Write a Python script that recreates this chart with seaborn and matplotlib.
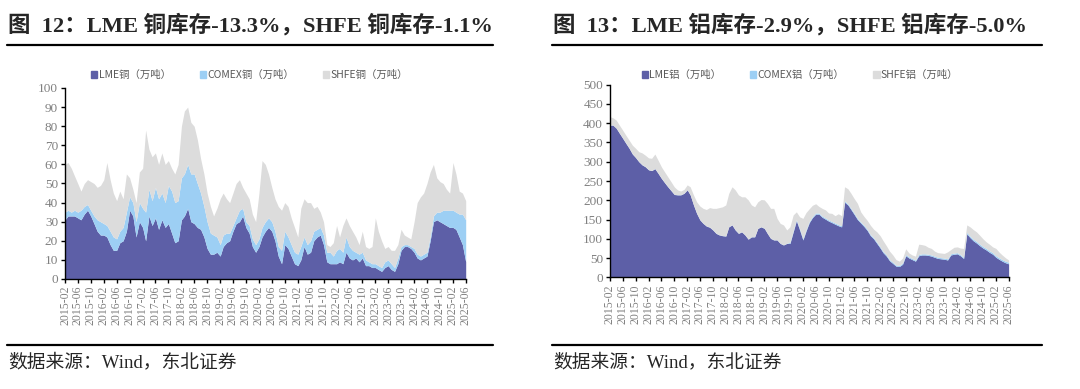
import numpy as np
import pandas as pd
import seaborn as sns
import matplotlib.pyplot as plt
import matplotlib.dates as mdates
from matplotlib.patches import Patch
from matplotlib.lines import Line2D

# monthly readings, 2015-02 .. 2025-06 (万吨)
cu_lme = [31, 33, 33, 33, 32, 31, 34, 36, 33, 29, 25, 23, 23, 22, 18, 15, 15, 19, 20, 25,
          36, 33, 22, 30, 27, 20, 33, 28, 32, 26, 31, 27, 29, 24, 19, 20, 31, 33, 37, 30,
          29, 27, 26, 22, 16, 13, 13, 14, 12, 17, 19, 20, 25, 29, 30, 33, 27, 24, 17, 14,
          17, 22, 25, 27, 25, 20, 12, 8, 18, 16, 12, 8, 7, 10, 17, 13, 14, 20, 22, 23,
          18, 9, 8, 8, 8, 9, 8, 14, 11, 10, 11, 9, 11, 7, 7, 6, 6, 5, 4, 6,
          7, 5, 4, 8, 15, 17, 17, 16, 14, 11, 10, 11, 12, 20, 30, 31, 30, 29, 28, 27,
          27, 26, 22, 18, 9]
cu_lme_comex = [35, 36, 35, 36, 35, 36, 38, 39, 36, 33, 31, 30, 29, 28, 25, 22, 21, 25, 27, 35,
                43, 40, 30, 40, 37, 35, 47, 41, 48, 42, 45, 40, 49, 46, 40, 41, 53, 55, 60, 55,
                55, 50, 45, 38, 30, 24, 23, 22, 18, 23, 24, 24, 28, 32, 36, 37, 30, 28, 21, 18,
                21, 27, 30, 32, 30, 25, 17, 15, 25, 22, 18, 14, 13, 17, 22, 18, 20, 25, 26, 27,
                23, 14, 14, 12, 15, 16, 14, 22, 17, 15, 14, 13, 14, 10, 9, 8, 8, 7, 6, 9,
                10, 8, 6, 11, 17, 18, 18, 17, 16, 13, 12, 13, 14, 22, 33, 35, 35, 36, 36, 36,
                36, 35, 34, 34, 31]
cu_total = [60, 61, 58, 54, 50, 46, 50, 52, 51, 50, 48, 49, 52, 61, 52, 45, 41, 46, 42, 55,
            53, 47, 40, 56, 58, 78, 68, 64, 66, 60, 66, 60, 62, 58, 55, 60, 80, 88, 90, 82,
            80, 73, 63, 55, 45, 38, 33, 37, 42, 45, 42, 40, 45, 50, 52, 48, 45, 42, 34, 30,
            45, 62, 60, 55, 48, 42, 38, 36, 40, 38, 32, 27, 22, 37, 42, 40, 40, 37, 38, 35,
            30, 18, 17, 19, 28, 22, 28, 32, 28, 25, 22, 18, 25, 17, 16, 17, 32, 25, 20, 16,
            17, 15, 15, 18, 26, 23, 22, 21, 30, 40, 43, 45, 50, 56, 60, 53, 51, 50, 47, 45,
            61, 55, 46, 45, 41]

al_lme = [395, 395, 387, 374, 361, 348, 335, 320, 311, 300, 292, 287, 279, 277, 282, 270, 257, 246, 235, 225,
          215, 214, 214, 218, 227, 214, 188, 166, 149, 140, 133, 130, 123, 114, 110, 108, 107, 131, 136, 123,
          114, 118, 110, 99, 105, 105, 127, 131, 127, 114, 101, 97, 97, 88, 84, 88, 88, 118, 147, 123,
          97, 120, 142, 155, 164, 164, 156, 151, 146, 142, 138, 134, 131, 195, 188, 176, 163, 150, 141, 132,
          122, 108, 100, 88, 76, 64, 55, 43, 36, 29, 28, 34, 56, 50, 46, 42, 56, 58, 58, 57,
          55, 52, 49, 48, 47, 45, 58, 60, 61, 56, 49, 113, 103, 95, 89, 82, 76, 71, 65, 60,
          52, 47, 42, 38, 35]
al_total = [417, 414, 408, 395, 382, 369, 356, 343, 335, 326, 323, 317, 310, 309, 320, 304, 287, 274, 261, 248,
            235, 227, 224, 228, 240, 235, 214, 196, 185, 179, 176, 181, 179, 179, 181, 183, 188, 218, 235, 227,
            214, 209, 209, 201, 188, 183, 196, 202, 201, 192, 179, 179, 153, 140, 136, 123, 131, 162, 170, 157,
            153, 168, 178, 187, 191, 184, 179, 175, 167, 166, 160, 165, 160, 235, 230, 218, 204, 192, 170, 158,
            148, 135, 125, 118, 108, 95, 82, 68, 58, 46, 42, 50, 74, 63, 58, 55, 86, 85, 83, 78,
            75, 68, 64, 63, 62, 66, 72, 78, 79, 76, 75, 136, 131, 124, 118, 109, 100, 92, 86, 79,
            75, 66, 58, 51, 45]
al_comex = [0.5] * 56 + [3] * 55 + [4] * 14

dates = pd.date_range('2015-02-01', periods=125, freq='MS')
tick_dates = dates[::4]

sns.set_theme(style='ticks')
plt.rcParams['font.family'] = ['Liberation Serif', 'Noto Sans CJK SC']
plt.rcParams['axes.unicode_minus'] = False

colors = ['#5d5fa7', '#9dcff4', '#dcdcdc']

fig = plt.figure(figsize=(10.8, 3.89), dpi=100)


def draw(ax, lme, comex, shfe, ymax, ystep, metal, legx, legy):
    ax.stackplot(dates, lme, comex, shfe, colors=colors, linewidth=0)
    ax.set_xlim(dates[0], dates[-1] + pd.Timedelta(days=3))
    ax.set_ylim(0, ymax)
    ax.set_yticks(np.arange(0, ymax + 1, ystep))
    ax.set_xticks(tick_dates)
    ax.xaxis.set_major_formatter(mdates.DateFormatter('%Y-%m'))
    ax.tick_params(axis='x', rotation=90, labelsize=8.5, labelcolor='#808080',
                   direction='out', length=3, width=1, color='black', pad=2)
    ax.tick_params(axis='y', labelsize=9.5, labelcolor='#808080',
                   direction='out', length=3, width=1, color='black', pad=2)
    sns.despine(ax=ax)
    for s in ['left', 'bottom']:
        ax.spines[s].set_color('black')
        ax.spines[s].set_linewidth(1)
    ax.grid(False)
    handles = [Patch(color=c) for c in colors]
    labels = [f'LME{metal}（万吨）', f'COMEX{metal}（万吨）', f'SHFE{metal}（万吨）']
    ax.legend(handles, labels, loc='center', bbox_to_anchor=(legx, legy), ncol=3,
              frameon=False, handlelength=0.6, handleheight=0.6, handletextpad=0.1,
              columnspacing=2.8, prop={'family': ['Noto Sans CJK SC'], 'size': 7.5},
              labelcolor='#595959')


cu_comex = [b - a for a, b in zip(cu_lme, cu_lme_comex)]
cu_shfe = [t - b for b, t in zip(cu_lme_comex, cu_total)]
al_shfe = [t - a - c for a, c, t in zip(al_lme, al_comex, al_total)]

ax1 = fig.add_axes([0.0602, 0.2828, 0.3713, 0.491])
draw(ax1, cu_lme, cu_comex, cu_shfe, 100, 10, '铜', 0.46, 1.068)

ax2 = fig.add_axes([0.5648, 0.2871, 0.3694, 0.4952])
draw(ax2, al_lme, al_comex, al_shfe, 500, 50, '铝', 0.476, 1.05)

title_font = ['Liberation Serif', 'Noto Sans CJK SC']
fig.text(0.0074, 0.935, '图  12：LME 铜库存-13.3%，SHFE 铜库存-1.1%', fontsize=16.2,
         fontweight='bold', family=title_font, va='center', ha='left')
fig.text(0.512, 0.935, '图  13：LME 铝库存-2.9%，SHFE 铝库存-5.0%', fontsize=16.2,
         fontweight='bold', family=title_font, va='center', ha='left')

for x0, x1 in [(7, 493), (552, 1042)]:
    fig.add_artist(Line2D([x0 / 1080, x1 / 1080], [1 - 45 / 389] * 2,
                          transform=fig.transFigure, color='black', lw=1.6))
    fig.add_artist(Line2D([x0 / 1080, x1 / 1080], [1 - 345 / 389] * 2,
                          transform=fig.transFigure, color='black', lw=1.6))

fig.text(0.0074, 1 - 362 / 389, '数据来源：Wind，东北证券', fontsize=13.5,
         family=title_font, va='center', ha='left')
fig.text(0.512, 1 - 362 / 389, '数据来源：Wind，东北证券', fontsize=13.5,
         family=title_font, va='center', ha='left')

fig.savefig('out.png', dpi=100)
